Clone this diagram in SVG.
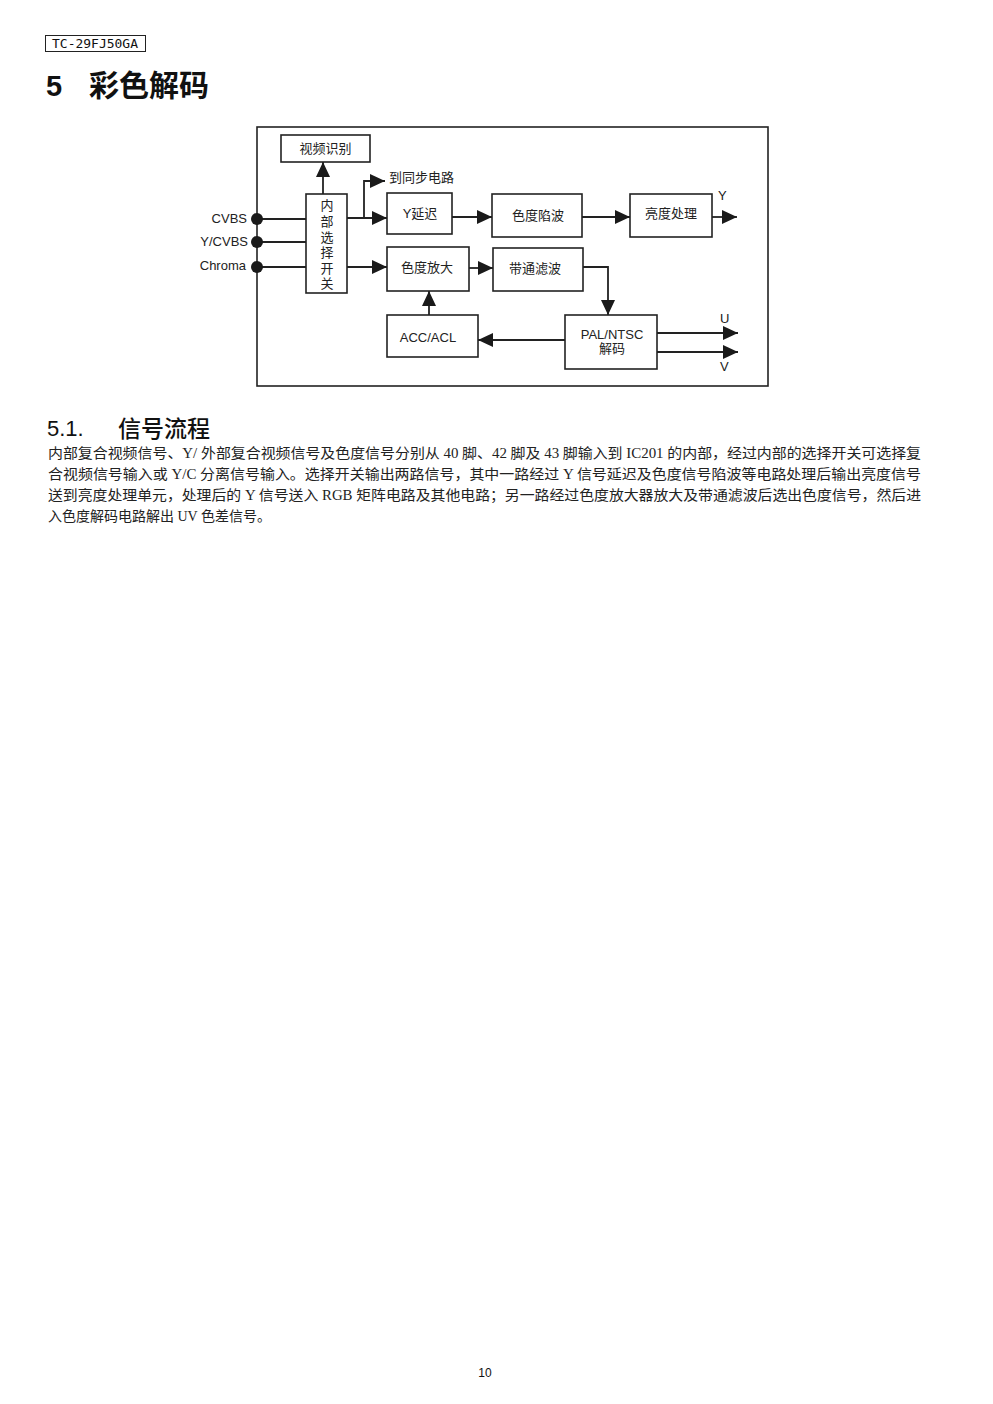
<svg xmlns="http://www.w3.org/2000/svg" width="993" height="1404" viewBox="0 0 993 1404">
<defs>
<marker id="ah" markerUnits="userSpaceOnUse" markerWidth="16" markerHeight="15" refX="15" refY="7" orient="auto">
<path d="M0,0 L15,7 L0,14 z" fill="#1a1a1a"/>
</marker>
<style>
.box{fill:#fff;stroke:#222;stroke-width:1.6}
.ln{fill:none;stroke:#222;stroke-width:1.8}
.arr{fill:none;stroke:#222;stroke-width:1.8;marker-end:url(#ah)}
.t{font-family:"Liberation Sans","Noto Sans CJK SC",sans-serif;font-size:13px;fill:#222;text-anchor:middle}
.lab{font-family:"Liberation Sans","Noto Sans CJK SC",sans-serif;font-size:13px;fill:#222}
.body{font-family:"Liberation Serif","Noto Sans CJK SC",serif;font-size:14px;fill:#222}
.dot{fill:#1a1a1a}
</style>
</defs>
<rect width="993" height="1404" fill="#fff"/>
<g id="header">
<rect x="45.5" y="35.5" width="100" height="16" fill="none" stroke="#222" stroke-width="1"/>
<text x="95" y="48" font-family="DejaVu Sans Mono,monospace" font-size="12" text-anchor="middle" textLength="86" lengthAdjust="spacingAndGlyphs" fill="#111">TC-29FJ50GA</text>
</g>
<g id="title">
<text x="46" y="96" font-family="Liberation Sans,Noto Sans CJK SC,sans-serif" font-size="29" font-weight="bold" fill="#111">5</text>
<text x="89" y="96" font-family="Noto Sans CJK SC,sans-serif" font-size="30" font-weight="bold" fill="#111">彩色解码</text>
</g>
<rect id="frame" x="257" y="127" width="511" height="259" fill="none" stroke="#222" stroke-width="1.6"/>
<g id="connectors">
<line class="ln" x1="257" y1="219" x2="306" y2="219"/>
<line class="ln" x1="257" y1="242" x2="306" y2="242"/>
<line class="ln" x1="257" y1="267" x2="306" y2="267"/>
<line class="arr" x1="323" y1="194" x2="323" y2="162"/>
<line class="arr" x1="347" y1="218" x2="387" y2="218"/>
<polyline class="arr" points="364,218 364,181 385,181"/>
<line class="arr" x1="347" y1="267" x2="387" y2="267"/>
<line class="arr" x1="452" y1="217" x2="492" y2="217"/>
<line class="arr" x1="582" y1="217" x2="630" y2="217"/>
<line class="arr" x1="712" y1="217" x2="737" y2="217"/>
<line class="arr" x1="469" y1="268" x2="493" y2="268"/>
<polyline class="arr" points="583,267 608,267 608,315"/>
<line class="arr" x1="565" y1="340" x2="478" y2="340"/>
<line class="arr" x1="429" y1="315" x2="429" y2="291"/>
<line class="arr" x1="657" y1="333" x2="738" y2="333"/>
<line class="arr" x1="657" y1="352" x2="738" y2="352"/>
</g>
<g id="inputs">
<circle class="dot" cx="257" cy="219" r="6"/>
<circle class="dot" cx="257" cy="242" r="6"/>
<circle class="dot" cx="257" cy="267" r="6"/>
<text class="lab" x="247" y="223" text-anchor="end">CVBS</text>
<text class="lab" x="248" y="246" text-anchor="end">Y/CVBS</text>
<text class="lab" x="246" y="270" text-anchor="end">Chroma</text>
<text class="lab" x="389" y="182">到同步电路</text>
<text class="lab" x="718" y="200">Y</text>
<text class="lab" x="720" y="323">U</text>
<text class="lab" x="720" y="371">V</text>
</g>
<g id="n-shipin">
<rect class="box" x="281" y="135" width="89" height="27"/>
<text class="t" x="325.5" y="153">视频识别</text>
</g>
<g id="n-switch">
<rect class="box" x="306" y="194" width="41" height="99"/>
<text class="t" x="327" y="210">内</text>
<text class="t" x="327" y="226">部</text>
<text class="t" x="327" y="242">选</text>
<text class="t" x="327" y="257">择</text>
<text class="t" x="327" y="273">开</text>
<text class="t" x="327" y="288">关</text>
</g>
<g id="n-ydelay">
<rect class="box" x="387" y="193" width="65" height="41"/>
<text class="t" x="420" y="218">Y延迟</text>
</g>
<g id="n-trap">
<rect class="box" x="492" y="194" width="90" height="43"/>
<text class="t" x="538" y="220">色度陷波</text>
</g>
<g id="n-luma">
<rect class="box" x="630" y="194" width="82" height="43"/>
<text class="t" x="671" y="218">亮度处理</text>
</g>
<g id="n-amp">
<rect class="box" x="387" y="247" width="82" height="44"/>
<text class="t" x="427" y="272">色度放大</text>
</g>
<g id="n-bpf">
<rect class="box" x="493" y="248" width="90" height="43"/>
<text class="t" x="535" y="273">带通滤波</text>
</g>
<g id="n-acc">
<rect class="box" x="387" y="315" width="91" height="42"/>
<text class="t" x="428" y="342">ACC/ACL</text>
</g>
<g id="n-pal">
<rect class="box" x="565" y="315" width="92" height="54"/>
<text class="t" x="612" y="339">PAL/NTSC</text>
<text class="t" x="612" y="353">解码</text>
</g>
<g id="section">
<text x="47" y="436" font-family="Liberation Sans,Noto Sans CJK SC,sans-serif" font-size="22" font-weight="500" fill="#111">5.1.</text>
<text x="118" y="437" font-family="Noto Sans CJK SC,sans-serif" font-size="23" font-weight="500" fill="#111">信号流程</text>
<text class="body" x="48" y="458" textLength="873" lengthAdjust="spacingAndGlyphs">内部复合视频信号、Y/ 外部复合视频信号及色度信号分别从 40 脚、42 脚及 43 脚输入到 IC201 的内部，经过内部的选择开关可选择复</text>
<text class="body" x="48" y="479" textLength="873" lengthAdjust="spacingAndGlyphs">合视频信号输入或 Y/C 分离信号输入。选择开关输出两路信号，其中一路经过 Y 信号延迟及色度信号陷波等电路处理后输出亮度信号</text>
<text class="body" x="48" y="500" textLength="873" lengthAdjust="spacingAndGlyphs">送到亮度处理单元，处理后的 Y 信号送入 RGB 矩阵电路及其他电路；另一路经过色度放大器放大及带通滤波后选出色度信号，然后进</text>
<text class="body" x="48" y="521">入色度解码电路解出 UV 色差信号。</text>
</g>
<text x="485" y="1377" font-family="Liberation Sans,sans-serif" font-size="12" text-anchor="middle" fill="#111">10</text>
</svg>
